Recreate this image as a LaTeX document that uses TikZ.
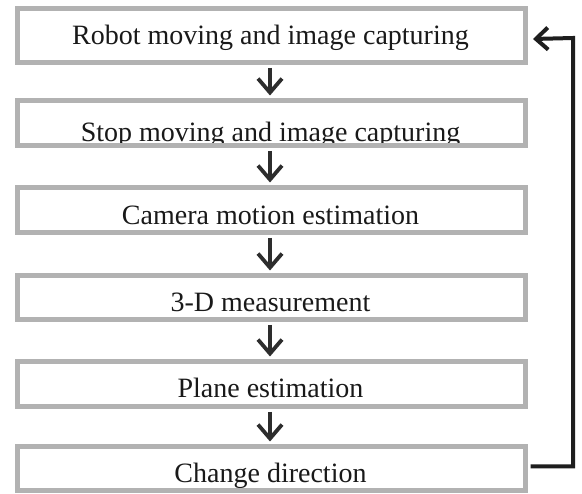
\documentclass[tikz,border=0pt]{standalone}
\usepackage{fontspec}
\setmainfont{Liberation Serif}
\usetikzlibrary{arrows.meta}
\definecolor{boxgray}{RGB}{178,178,178}
\definecolor{arrowdark}{RGB}{45,45,45}
\definecolor{loopdark}{RGB}{30,30,30}
\begin{document}
\begin{tikzpicture}[x=1pt,y=-1pt,
  stepbox/.style={draw=boxgray,line width=5pt,minimum width=508pt,inner sep=0pt},
  lbl/.style={font=\fontsize{28}{32}\selectfont,inner sep=0pt,anchor=base,text=black!90},
  flow/.style={draw=arrowdark,line width=3.8pt,-{Straight Barb[length=14pt,width=24pt]},shorten <=3pt,shorten >=2.5pt},
  loop/.style={draw=loopdark,line width=4pt,-{Straight Barb[length=12pt,width=22pt]}}]
\useasboundingbox (0,0) rectangle (582,494);
\fill[white] (0,0) rectangle (582,494);
% texts (drawn first so the borders cover descenders)
\node[lbl] (t1) at (270.5,45) {Robot moving and image capturing};
\node[lbl] (t2) at (270.5,142) {Stop moving and image capturing};
\node[lbl] (t3) at (270.5,225) {Camera motion estimation};
\node[lbl] (t4) at (270.5,312) {3-D measurement};
\node[lbl] (t5) at (270.5,398) {Plane estimation};
\node[lbl] (t6) at (270.5,483) {Change direction};
% boxes
\node[stepbox,minimum height=54pt] (b1) at (271.5,35.5) {};
\node[stepbox,minimum height=45pt] (b2) at (271.5,123) {};
\node[stepbox,minimum height=45pt] (b3) at (271.5,210) {};
\node[stepbox,minimum height=44pt] (b4) at (271.5,297.5) {};
\node[stepbox,minimum height=45pt] (b5) at (271.5,384) {};
\node[stepbox,minimum height=44pt] (b6) at (271.5,468.5) {};
% flow arrows
\draw[flow] ([xshift=-1.5pt]b1.south) -- ([xshift=-1.5pt]b2.north);
\draw[flow] ([xshift=-1.5pt]b2.south) -- ([xshift=-1.5pt]b3.north);
\draw[flow] ([xshift=-1.5pt]b3.south) -- ([xshift=-1.5pt]b4.north);
\draw[flow] ([xshift=-1.5pt]b4.south) -- ([xshift=-1.5pt]b5.north);
\draw[flow] ([xshift=-1.5pt]b5.south) -- ([xshift=-1.5pt]b6.north);
% feedback loop
\draw[loop] ([xshift=2.5pt,yshift=2pt]b6.east) -| (573,38) -- ([xshift=5pt,yshift=-3.5pt]b1.east);
\end{tikzpicture}
\end{document}
